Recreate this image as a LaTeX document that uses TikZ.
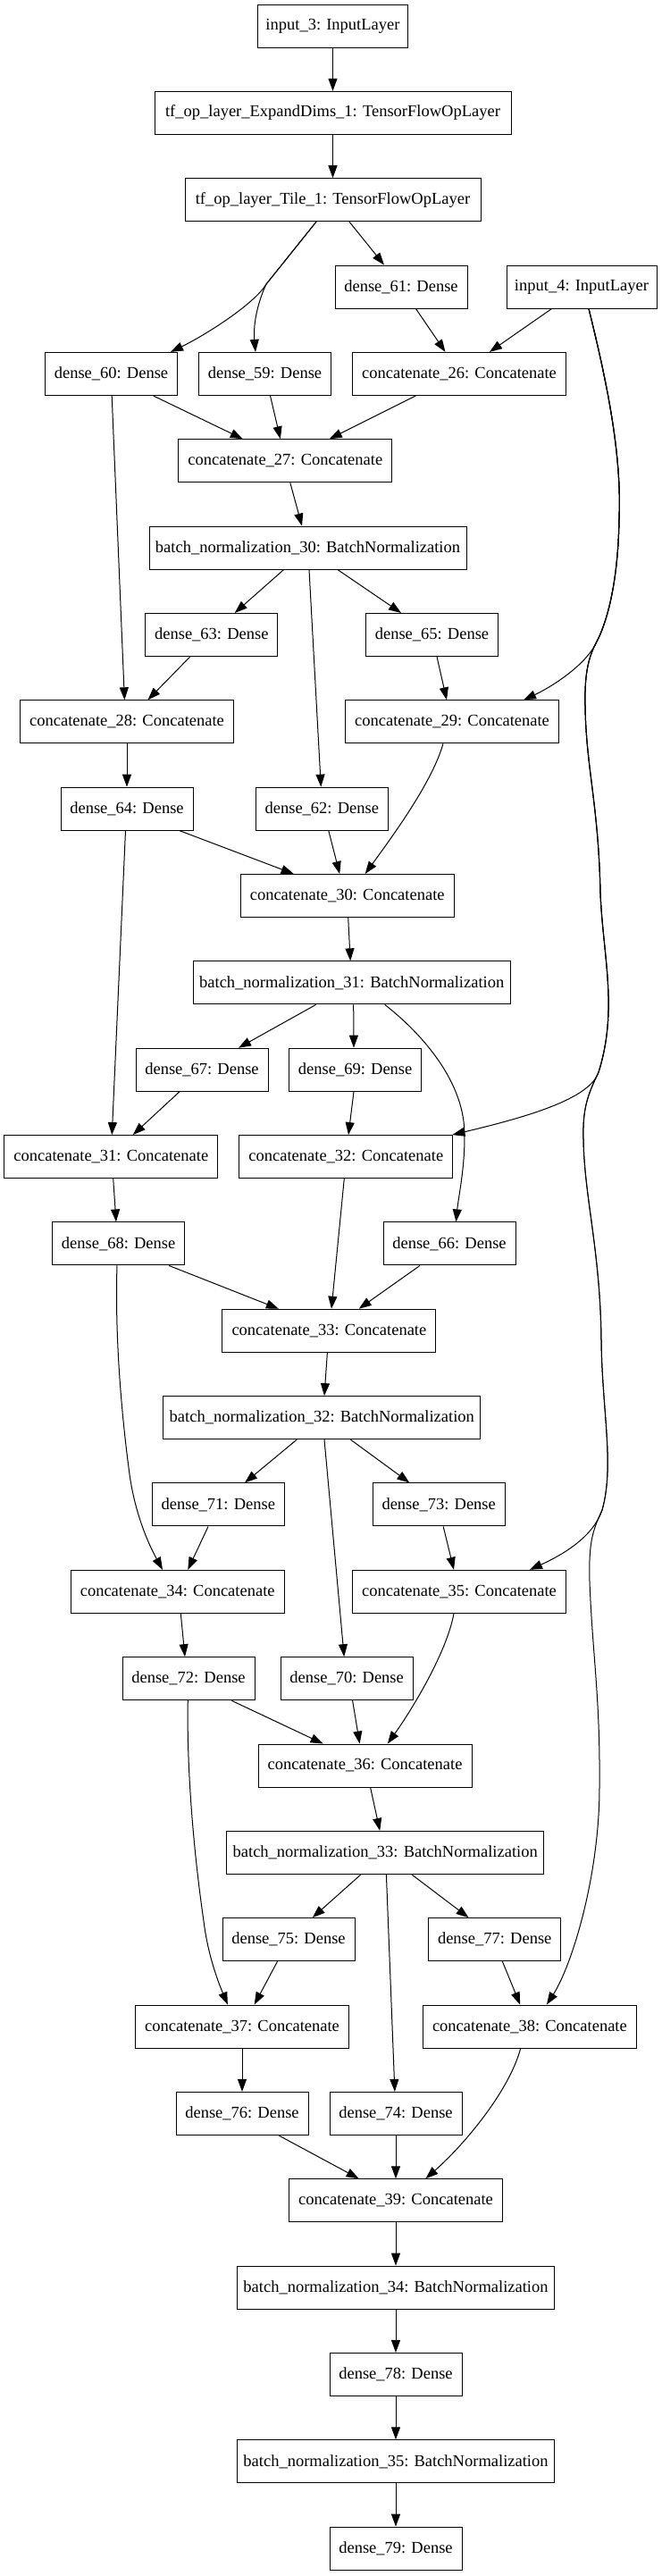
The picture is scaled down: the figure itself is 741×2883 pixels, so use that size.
\documentclass[tikz,border=0pt]{standalone}
\usepackage{fontspec}
\setmainfont{Liberation Serif}
\usetikzlibrary{arrows.meta}
\tikzset{
  box/.style={draw, line width=1pt, minimum height=48pt, inner sep=0pt, font=\fontsize{18.5}{22}\selectfont},
  dn/.style={box, minimum width=148pt},
  cc/.style={box, minimum width=239pt},
  bn/.style={box, minimum width=355pt},
  e/.style={line width=1pt, -{Triangle[length=14pt,width=10pt]}}
}
\begin{document}
\begin{tikzpicture}[x=1pt,y=-1pt]
\useasboundingbox (0,0) rectangle (741,2883);
% nodes
\node[box, minimum width=168pt] (in3) at (372.5,29) {input\_3: InputLayer};
\node[box, minimum width=399pt] (exp) at (372.5,126.35) {tf\_op\_layer\_ExpandDims\_1: TensorFlowOpLayer};
\node[box, minimum width=331pt] (tile) at (372.5,223.7) {tf\_op\_layer\_Tile\_1: TensorFlowOpLayer};
\node[dn] (d61) at (449,321.05) {dense\_61: Dense};
\node[box, minimum width=168pt] (in4) at (651,321.05) {input\_4: InputLayer};
\node[dn] (d60) at (124.5,418.4) {dense\_60: Dense};
\node[dn] (d59) at (296.5,418.4) {dense\_59: Dense};
\node[cc] (c26) at (514,418.4) {concatenate\_26: Concatenate};
\node[cc] (c27) at (319.3,515.75) {concatenate\_27: Concatenate};
\node[bn] (bn30) at (344.5,613.1) {batch\_normalization\_30: BatchNormalization};
\node[dn] (d63) at (236.8,710.45) {dense\_63: Dense};
\node[dn] (d65) at (483.5,710.45) {dense\_65: Dense};
\node[cc] (c28) at (142,807.8) {concatenate\_28: Concatenate};
\node[cc] (c29) at (506,807.8) {concatenate\_29: Concatenate};
\node[dn] (d64) at (142,905.15) {dense\_64: Dense};
\node[dn] (d62) at (360.3,905.15) {dense\_62: Dense};
\node[cc] (c30) at (388.7,1002.5) {concatenate\_30: Concatenate};
\node[bn] (bn31) at (393.7,1099.85) {batch\_normalization\_31: BatchNormalization};
\node[dn] (d67) at (226,1197.2) {dense\_67: Dense};
\node[dn] (d69) at (397.7,1197.2) {dense\_69: Dense};
\node[cc] (c31) at (124.3,1294.55) {concatenate\_31: Concatenate};
\node[cc] (c32) at (387.3,1294.55) {concatenate\_32: Concatenate};
\node[dn] (d68) at (132.6,1391.9) {dense\_68: Dense};
\node[dn] (d66) at (503,1391.9) {dense\_66: Dense};
\node[cc] (c33) at (368.4,1489.25) {concatenate\_33: Concatenate};
\node[bn] (bn32) at (360.3,1586.6) {batch\_normalization\_32: BatchNormalization};
\node[dn] (d71) at (244.3,1683.95) {dense\_71: Dense};
\node[dn] (d73) at (491.2,1683.95) {dense\_73: Dense};
\node[cc] (c34) at (198.7,1781.3) {concatenate\_34: Concatenate};
\node[cc] (c35) at (514,1781.3) {concatenate\_35: Concatenate};
\node[dn] (d72) at (211,1878.65) {dense\_72: Dense};
\node[dn] (d70) at (388.2,1878.65) {dense\_70: Dense};
\node[cc] (c36) at (408.6,1976) {concatenate\_36: Concatenate};
\node[bn] (bn33) at (431.2,2073.35) {batch\_normalization\_33: BatchNormalization};
\node[dn] (d75) at (323,2170.7) {dense\_75: Dense};
\node[dn] (d77) at (553.7,2170.7) {dense\_77: Dense};
\node[cc] (c37) at (271,2268.05) {concatenate\_37: Concatenate};
\node[cc] (c38) at (592.9,2268.05) {concatenate\_38: Concatenate};
\node[dn] (d76) at (271,2365.4) {dense\_76: Dense};
\node[dn] (d74) at (443,2365.4) {dense\_74: Dense};
\node[cc] (c39) at (443,2462.75) {concatenate\_39: Concatenate};
\node[bn] (bn34) at (443,2560.1) {batch\_normalization\_34: BatchNormalization};
\node[dn] (d78) at (443,2657.45) {dense\_78: Dense};
\node[bn] (bn35) at (443,2754.8) {batch\_normalization\_35: BatchNormalization};
\node[dn] (d79) at (443,2852.15) {dense\_79: Dense};
% waypoints of the input_4 trunk
\coordinate (t1) at (693,580);
\coordinate (t2) at (668,718);
\coordinate (t3) at (655,790);
\coordinate (t4) at (672,1000);
\coordinate (t5) at (670,1200);
\coordinate (t6) at (653,1275);
\coordinate (t7) at (673,1500);
\coordinate (t8) at (674,1690);
\coordinate (t9) at (660,1770);
\coordinate (t10) at (671,2000);
% edges
\draw[e] (in3) -- (exp);
\draw[e] (exp) -- (tile);
\draw[e] ([xshift=18.5pt]tile.south) -- ([xshift=-19pt]d61.north);
\draw[e] ([xshift=-18.5pt]tile.south) -- (298,318) .. controls (285,340) and (230,375) .. ([xshift=66.5pt]d60.north);
\draw[e] ([xshift=-18.5pt]tile.south) -- (298,318) .. controls (290,335) and (283,360) .. ([xshift=-10.5pt]d59.north);
\draw[e] ([xshift=16.5pt]d61.south) -- ([xshift=-15.5pt]c26.north);
\draw[e] ([xshift=-33.5pt]in4.south) -- ([xshift=34pt]c26.north);
\draw[e] ([xshift=47pt]d60.south) -- ([xshift=-47.5pt]c27.north);
\draw[e] ([xshift=6pt]d59.south) -- ([xshift=-5.5pt]c27.north);
\draw[e] ([xshift=-48.5pt]c26.south) -- ([xshift=49.5pt]c27.north);
\draw[e] ([xshift=5.5pt]c27.south) -- ([xshift=-6.5pt]bn30.north);
\draw[e] ([xshift=-27pt]bn30.south) -- ([xshift=26pt]d63.north);
\draw[e] ([xshift=1.5pt]bn30.south) -- ([xshift=-1pt]d62.north);
\draw[e] ([xshift=33.5pt]bn30.south) -- ([xshift=-34.5pt]d65.north);
\draw[e] ([xshift=0.7pt]d60.south) -- ([xshift=-2.6pt]c28.north);
\draw[e] ([xshift=-24pt]d63.south) -- ([xshift=23.5pt]c28.north);
\draw[e] ([xshift=5.5pt]d65.south) -- ([xshift=-6pt]c29.north);
\draw[e] (c28) -- (d64);
\draw[e] ([xshift=59pt]d64.south) -- ([xshift=-60pt]c30.north);
\draw[e] ([xshift=7.5pt]d62.south) -- ([xshift=-8.5pt]c30.north);
\draw[e] ([xshift=-10pt]c29.south) .. controls (484,875) and (440,935) .. ([xshift=20pt]c30.north);
\draw[e] ([xshift=-1.5pt]d64.south) -- ([xshift=1pt]c31.north);
\draw[e] ([xshift=1pt]c30.south) -- ([xshift=-1.5pt]bn31.north);
\draw[e] ([xshift=-40pt]bn31.south) -- ([xshift=41pt]d67.north);
\draw[e] ([xshift=2pt]bn31.south) -- ([xshift=-1.7pt]d69.north);
\draw[e] ([xshift=37pt]bn31.south) .. controls (470,1155) and (515,1205) .. (519.5,1260) .. controls (522,1300) and (513,1340) .. ([xshift=7.5pt]d66.north);
\draw[e] ([xshift=-25pt]d67.south) -- ([xshift=24.5pt]c31.north);
\draw[e] ([xshift=-1.7pt]d69.south) -- ([xshift=2.7pt]c32.north);
\draw[e] ([xshift=2.4pt]c31.south) -- ([xshift=-2.6pt]d68.north);
\draw[e] ([xshift=-2pt]c32.south) -- ([xshift=2.6pt]c33.north);
\draw[e] ([xshift=56.5pt]d68.south) -- ([xshift=-56.5pt]c33.north);
\draw[e] ([xshift=-33pt]d66.south) -- ([xshift=33.3pt]c33.north);
\draw[e] ([xshift=-1.6pt]d68.south) .. controls (129,1480) and (133,1560) .. (145,1650) .. controls (152,1700) and (170,1735) .. ([xshift=-16.7pt]c34.north);
\draw[e] ([xshift=-2pt]c33.south) -- ([xshift=2.7pt]bn32.north);
\draw[e] ([xshift=-28pt]bn32.south) -- ([xshift=29.7pt]d71.north);
\draw[e] ([xshift=2.7pt]bn32.south) -- ([xshift=-3pt]d70.north);
\draw[e] ([xshift=32pt]bn32.south) -- ([xshift=-32.8pt]d73.north);
\draw[e] ([xshift=-11.3pt]d71.south) -- ([xshift=11.6pt]c34.north);
\draw[e] ([xshift=5pt]d73.south) -- ([xshift=-6pt]c35.north);
\draw[e] ([xshift=3.6pt]c34.south) -- ([xshift=-4pt]d72.north);
\draw[e] ([xshift=48pt]d72.south) -- ([xshift=-47pt]c36.north);
\draw[e] ([xshift=6.4pt]d70.south) -- ([xshift=-6pt]c36.north);
\draw[e] ([xshift=-6pt]c35.south) .. controls (500,1850) and (460,1915) .. ([xshift=25.2pt]c36.north);
\draw[e] ([xshift=-0.7pt]d72.south) .. controls (209,1970) and (215,2060) .. (228,2150) .. controls (233,2190) and (245,2220) .. ([xshift=-16.1pt]c37.north);
\draw[e] ([xshift=6pt]c36.south) -- ([xshift=-6pt]bn33.north);
\draw[e] ([xshift=-27.2pt]bn33.south) -- ([xshift=26.7pt]d75.north);
\draw[e] ([xshift=1.2pt]bn33.south) -- ([xshift=-1.1pt]d74.north);
\draw[e] ([xshift=29.6pt]bn33.south) -- ([xshift=-29.1pt]d77.north);
\draw[e] ([xshift=-12.5pt]d75.south) -- ([xshift=13.7pt]c37.north);
\draw[e] ([xshift=8.7pt]d77.south) -- ([xshift=-10.7pt]c38.north);
\draw[e] (c37) -- (d76);
\draw[e] ([xshift=41pt]d76.south) -- ([xshift=-41.3pt]c39.north);
\draw[e] (d74) -- (c39);
\draw[e] ([xshift=-10.2pt]c38.south) .. controls (570,2340) and (520,2400) .. ([xshift=33.4pt]c39.north);
\draw[e] (c39) -- (bn34);
\draw[e] (bn34) -- (d78);
\draw[e] (d78) -- (bn35);
\draw[e] (bn35) -- (d79);
% input_4 long edges
\draw[e] ([xshift=8pt]in4.south) .. controls (680,430) and (696,510) .. (t1)
  .. controls (692,650) and (680,695) .. (t2)
  .. controls (656,745) and (615,770) .. ([xshift=80pt]c29.north);
\draw[e] ([xshift=8pt]in4.south) .. controls (680,430) and (696,510) .. (t1)
  .. controls (692,650) and (680,695) .. (t2)
  .. controls (660,733) and (654,750) .. (t3)
  .. controls (656,860) and (670,900) .. (t4)
  .. controls (675,1070) and (692,1130) .. (t5)
  .. controls (660,1230) and (590,1250) .. ([xshift=119pt]c32.north);
\draw[e] ([xshift=8pt]in4.south) .. controls (680,430) and (696,510) .. (t1)
  .. controls (692,650) and (680,695) .. (t2)
  .. controls (660,733) and (654,750) .. (t3)
  .. controls (656,860) and (670,900) .. (t4)
  .. controls (675,1070) and (692,1130) .. (t5)
  .. controls (658,1225) and (652,1240) .. (t6)
  .. controls (654,1340) and (672,1400) .. (t7)
  .. controls (674,1580) and (688,1640) .. (t8)
  .. controls (664,1720) and (630,1740) .. ([xshift=79pt]c35.north);
\draw[e] ([xshift=8pt]in4.south) .. controls (680,430) and (696,510) .. (t1)
  .. controls (692,650) and (680,695) .. (t2)
  .. controls (660,733) and (654,750) .. (t3)
  .. controls (656,860) and (670,900) .. (t4)
  .. controls (675,1070) and (692,1130) .. (t5)
  .. controls (658,1225) and (652,1240) .. (t6)
  .. controls (654,1340) and (672,1400) .. (t7)
  .. controls (674,1580) and (688,1640) .. (t8)
  .. controls (662,1715) and (659,1730) .. (t9)
  .. controls (663,1850) and (672,1900) .. (t10)
  .. controls (671,2100) and (640,2200) .. ([xshift=19pt]c38.north);
\end{tikzpicture}
\end{document}
